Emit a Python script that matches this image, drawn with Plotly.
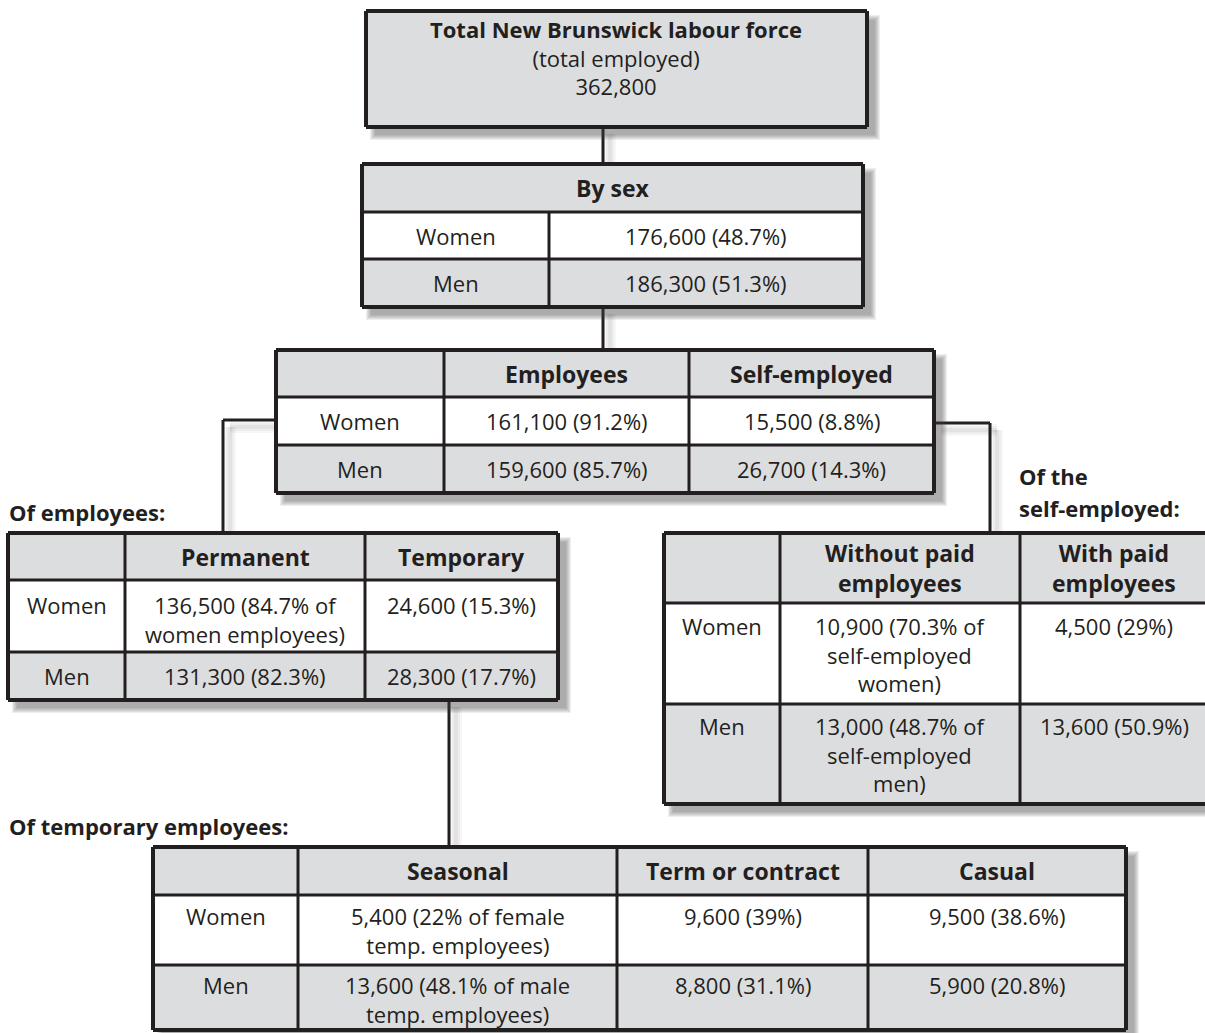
import plotly.graph_objects as go

# ---------------- data ----------------
total_title = "Total New Brunswick labour force"
total_sub = "(total employed)"
total_value = "362,800"

sex_header = "By sex"
sex_rows = ["Women", "Men"]
sex_values = ["176,600 (48.7%)", "186,300 (51.3%)"]

emp_cols = ["Employees", "Self-employed"]
emp_values = [["161,100 (91.2%)", "15,500 (8.8%)"],
              ["159,600 (85.7%)", "26,700 (14.3%)"]]

perm_label = "Of employees:"
perm_cols = ["Permanent", "Temporary"]
perm_values = [["136,500 (84.7% of<br>women employees)", "24,600 (15.3%)"],
               ["131,300 (82.3%)", "28,300 (17.7%)"]]

self_label = ["Of the", "self-employed:"]
self_cols = ["Without paid<br>employees", "With paid<br>employees"]
self_values = [["10,900 (70.3% of<br>self-employed<br>women)", "4,500 (29%)"],
               ["13,000 (48.7% of<br>self-employed<br>men)", "13,600 (50.9%)"]]

temp_label = "Of temporary employees:"
temp_cols = ["Seasonal", "Term or contract", "Casual"]
temp_values = [["5,400 (22% of female<br>temp. employees)", "9,600 (39%)", "9,500 (38.6%)"],
               ["13,600 (48.1% of male<br>temp. employees)", "8,800 (31.1%)", "5,900 (20.8%)"]]

# ---------------- style ----------------
W, H = 1205, 1033
INK = "#231f20"
GRAY = "#dcdddf"
WHITE = "#ffffff"
FONT = "Open Sans"
FS = 22
FSB = 23
LW = 3

shapes = []
annots = []


def shadow(x0, y0, x1, y1, off=7, blur=6):
    for k in range(blur):
        shapes.append(dict(type="rect", xref="x", yref="y",
                           x0=x0 + off - blur + k + 3, y0=y0 + off - blur + k + 3,
                           x1=x1 + off + blur - k, y1=y1 + off + blur - k,
                           line=dict(width=0), fillcolor="rgba(70,70,70,0.09)", layer="above"))


def line(x0, y0, x1, y1, w=LW):
    shapes.append(dict(type="line", xref="x", yref="y", x0=x0, y0=y0, x1=x1, y1=y1,
                       line=dict(color=INK, width=w), layer="above"))


def rect(x0, y0, x1, y1, fill):
    shapes.append(dict(type="rect", xref="x", yref="y", x0=x0, y0=y0, x1=x1, y1=y1,
                       line=dict(width=0), fillcolor=fill, layer="above"))


def text(x, y, s, bold=False, anchor="center", size=None):
    size = size or (FSB if bold else FS)
    if bold:
        s = "<b>" + s.replace("<br>", "</b><br><b>") + "</b>"
    annots.append(dict(x=x, y=y, xref="x", yref="y", text=s, showarrow=False,
                       xanchor=anchor, yanchor="middle", borderpad=0,
                       font=dict(family=FONT, size=size, color=INK)))


def cell_text(x0, x1, y0, y1, s, bold=False, top=None):
    n = len(s.split("<br>"))
    lh = 1.3 * (FSB if bold else FS)
    if top is None:
        cy = (y0 + y1) / 2
    else:
        cy = y0 + top + (n - 1) * lh / 2
    text((x0 + x1) / 2, cy, s, bold=bold)


def table(xs, ys, header, rows, values, top=(24, 24), header_span=False):
    shadow(xs[0], ys[0], xs[-1], ys[-1])
    fills = [GRAY, WHITE, GRAY]
    for r in range(3):
        rect(xs[0], ys[r], xs[-1], ys[r + 1], fills[r])
    if header_span:
        cell_text(xs[0], xs[-1], ys[0], ys[1], header[0], bold=True)
    else:
        for c, h in enumerate(header):
            cell_text(xs[c + 1], xs[c + 2], ys[0], ys[1], h, bold=True)
    for r in range(2):
        multi = any("<br>" in v for v in values[r])
        t = top[r] if multi else None
        cell_text(xs[0], xs[1], ys[r + 1], ys[r + 2], rows[r], top=t)
        for c, v in enumerate(values[r]):
            cell_text(xs[c + 1], xs[c + 2], ys[r + 1], ys[r + 2], v, top=t)
    for y in ys[1:-1]:
        line(xs[0], y, xs[-1], y)
    v_top = ys[1] if header_span else ys[0]
    for x in xs[1:-1]:
        line(x, v_top, x, ys[-1])
    line(xs[0], ys[0], xs[-1], ys[0], 4)
    line(xs[0], ys[-1], xs[-1], ys[-1], 4)
    line(xs[0], ys[0], xs[0], ys[-1], 4)
    line(xs[-1], ys[0], xs[-1], ys[-1], 4)


def conn(pts):
    for w, a_ in ((12, 0.05), (8, 0.06), (4, 0.07)):
        for (a, b) in zip(pts[:-1], pts[1:]):
            shapes.append(dict(type="line", xref="x", yref="y", x0=a[0] + 7, y0=a[1] + 7,
                               x1=b[0] + 7, y1=b[1] + 7,
                               line=dict(color="rgba(90,90,90,%.2f)" % a_, width=w), layer="above"))
    for (a, b) in zip(pts[:-1], pts[1:]):
        line(a[0], a[1], b[0], b[1])


# connectors (drawn first, below boxes)
conn([(603, 127), (603, 164)])
conn([(603, 307), (603, 350)])
conn([(276, 420), (223, 420), (223, 533)])
conn([(934, 423), (990, 423), (990, 533)])
conn([(449, 700), (449, 847)])

# top box
shadow(366, 11, 867, 127)
rect(366, 11, 867, 127, GRAY)
line(366, 11, 867, 11, 4)
line(366, 127, 867, 127, 4)
line(366, 11, 366, 127, 4)
line(867, 11, 867, 127, 4)
text(616, 57, "<b>" + total_title + "</b><br>" + total_sub + "<br>" + total_value)

# by sex
table([362, 549, 863], [164, 212, 259, 307], [sex_header], sex_rows,
      [[v] for v in sex_values], header_span=True)

# employees / self-employed
table([276, 444, 689, 934], [350, 397, 445, 493], emp_cols, sex_rows, emp_values)

# of employees
text(8, 512, perm_label, bold=True, anchor="left", size=22)
table([8, 125, 365, 558], [533, 580, 652, 700], perm_cols, sex_rows, perm_values, top=(25, 24))

# of self-employed
for i, ln in enumerate(self_label):
    text(1018, 476 + i * 32, ln, bold=True, anchor="left", size=22)
table([664, 780, 1020, 1208], [533, 603, 704, 804], self_cols, sex_rows, self_values, top=(23, 22))

# of temporary employees
text(8, 826, temp_label, bold=True, anchor="left", size=22)
table([153, 298, 617, 868, 1126], [847, 895, 965, 1030], temp_cols, sex_rows, temp_values,
      top=(21, 20))

fig = go.Figure()
fig.update_layout(
    width=W, height=H, margin=dict(l=0, r=0, t=0, b=0),
    paper_bgcolor="white", plot_bgcolor="white",
    xaxis=dict(range=[0, W], visible=False, fixedrange=True),
    yaxis=dict(range=[H, 0], visible=False, fixedrange=True),
    shapes=shapes, annotations=annots, showlegend=False,
)
fig.write_html("out.html", config={"displayModeBar": False},
               post_script="document.body.style.margin='0';document.body.style.overflow='hidden';")
